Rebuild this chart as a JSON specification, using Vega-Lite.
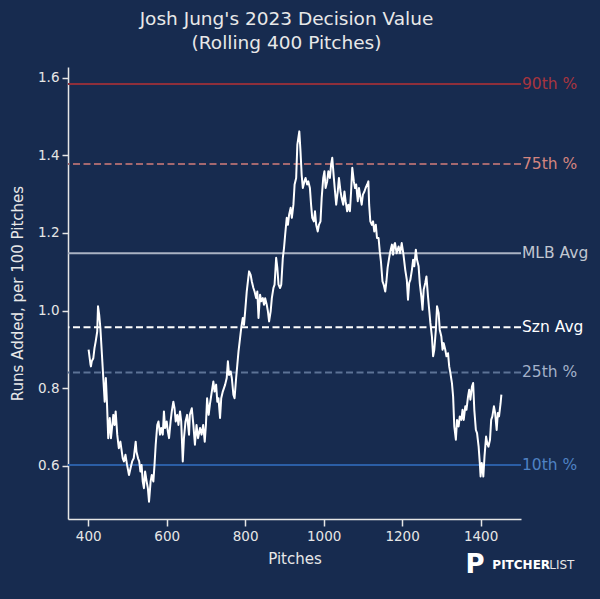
{
  "$schema": "https://vega.github.io/schema/vega-lite/v6.json",
  "width": 453,
  "height": 452,
  "autosize": {"type": "none"},
  "padding": {"left": 68, "top": 67, "right": 79, "bottom": 80},
  "background": "#172b4f",
  "config": {"view": {"stroke": null}, "font": "DejaVu Sans"},
  "title": {
    "text": ["Josh Jung's 2023 Decision Value", "(Rolling 400 Pitches)"],
    "fontSize": 18.5,
    "font": "DejaVu Sans",
    "fontWeight": "normal",
    "color": "#e8e8e8",
    "lineHeight": 24,
    "offset": 15,
    "frame": "group",
    "anchor": "middle",
    "dx": -8
  },
  "datasets": {
    "series": [
      {"p":401,"v":0.899},{"p":406,"v":0.860},{"p":407,"v":0.856},{"p":409,"v":0.869},{"p":413,"v":0.877},{"p":416,"v":0.903},{"p":419,"v":0.920},{"p":423,"v":0.946},{"p":425,"v":1.011},{"p":428,"v":0.989},{"p":431,"v":0.955},{"p":435,"v":0.886},{"p":438,"v":0.834},{"p":442,"v":0.765},{"p":445,"v":0.826},{"p":448,"v":0.757},{"p":451,"v":0.671},{"p":455,"v":0.723},{"p":458,"v":0.671},{"p":464,"v":0.731},{"p":467,"v":0.705},{"p":470,"v":0.740},{"p":474,"v":0.680},{"p":478,"v":0.645},{"p":482,"v":0.662},{"p":488,"v":0.619},{"p":491,"v":0.611},{"p":495,"v":0.628},{"p":499,"v":0.602},{"p":504,"v":0.576},{"p":508,"v":0.594},{"p":512,"v":0.611},{"p":516,"v":0.619},{"p":521,"v":0.662},{"p":523,"v":0.636},{"p":527,"v":0.619},{"p":530,"v":0.611},{"p":533,"v":0.585},{"p":536,"v":0.602},{"p":539,"v":0.559},{"p":542,"v":0.542},{"p":545,"v":0.585},{"p":549,"v":0.559},{"p":552,"v":0.542},{"p":555,"v":0.507},{"p":559,"v":0.559},{"p":562,"v":0.576},{"p":566,"v":0.559},{"p":569,"v":0.602},{"p":572,"v":0.654},{"p":576,"v":0.705},{"p":579,"v":0.714},{"p":583,"v":0.680},{"p":586,"v":0.697},{"p":590,"v":0.680},{"p":593,"v":0.740},{"p":596,"v":0.697},{"p":600,"v":0.714},{"p":603,"v":0.688},{"p":606,"v":0.671},{"p":610,"v":0.714},{"p":613,"v":0.740},{"p":617,"v":0.765},{"p":620,"v":0.748},{"p":623,"v":0.714},{"p":627,"v":0.731},{"p":630,"v":0.705},{"p":634,"v":0.740},{"p":637,"v":0.714},{"p":641,"v":0.611},{"p":644,"v":0.671},{"p":648,"v":0.714},{"p":652,"v":0.731},{"p":657,"v":0.680},
      {"p":659,"v":0.731},{"p":664,"v":0.748},{"p":668,"v":0.705},{"p":672,"v":0.654},{"p":676,"v":0.705},{"p":680,"v":0.671},{"p":685,"v":0.697},{"p":689,"v":0.680},{"p":693,"v":0.705},{"p":697,"v":0.662},{"p":700,"v":0.705},{"p":703,"v":0.774},{"p":707,"v":0.731},{"p":710,"v":0.757},{"p":715,"v":0.791},{"p":719,"v":0.817},{"p":722,"v":0.791},{"p":726,"v":0.809},{"p":729,"v":0.765},{"p":732,"v":0.774},{"p":736,"v":0.723},{"p":739,"v":0.774},{"p":743,"v":0.791},{"p":746,"v":0.800},{"p":749,"v":0.809},{"p":753,"v":0.826},{"p":756,"v":0.869},{"p":759,"v":0.834},{"p":763,"v":0.843},{"p":766,"v":0.826},{"p":770,"v":0.783},{"p":773,"v":0.774},{"p":777,"v":0.826},{"p":780,"v":0.860},{"p":783,"v":0.894},{"p":787,"v":0.929},{"p":790,"v":0.955},{"p":794,"v":0.981},{"p":797,"v":0.963},{"p":800,"v":0.998},{"p":804,"v":1.049},{"p":807,"v":1.075},{"p":810,"v":1.101},{"p":814,"v":1.092},{"p":817,"v":1.075},{"p":821,"v":1.058},{"p":824,"v":1.049},{"p":828,"v":1.032},{"p":831,"v":1.049},{"p":834,"v":0.981},{"p":838,"v":1.041},{"p":841,"v":1.024},{"p":845,"v":1.032},{"p":848,"v":1.015},{"p":851,"v":1.032},{"p":855,"v":1.015},{"p":858,"v":0.998},{"p":861,"v":0.972},{"p":865,"v":0.998},{"p":868,"v":1.032},{"p":872,"v":1.058},{"p":875,"v":1.067},{"p":879,"v":1.136},{"p":882,"v":1.110},{"p":885,"v":1.067},{"p":889,"v":1.058},{"p":892,"v":1.067},{"p":896,"v":1.136},{"p":899,"v":1.161},{"p":902,"v":1.196},{"p":906,"v":1.239},{"p":909,"v":1.221},{"p":912,"v":1.247},{"p":916,"v":1.265},{"p":919,"v":1.239},{"p":923,"v":1.273},{"p":926,"v":1.325},{"p":930,"v":1.342},{"p":933,"v":1.428},{"p":938,"v":1.462},{"p":941,"v":1.411},{"p":944,"v":1.350},{"p":947,"v":1.316},{"p":951,"v":1.333},{"p":954,"v":1.342},{"p":958,"v":1.325},{"p":961,"v":1.333},{"p":965,"v":1.316},{"p":968,"v":1.273},{"p":971,"v":1.239},{"p":975,"v":1.230},{"p":978,"v":1.256},{"p":981,"v":1.221},{"p":985,"v":1.204},{"p":988,"v":1.221},{"p":992,"v":1.230},{"p":995,"v":1.290},{"p":999,"v":1.342},{"p":1002,"v":1.359},{"p":1005,"v":1.316},{"p":1009,"v":1.333},{"p":1012,"v":1.359},{"p":1016,"v":1.342},{"p":1019,"v":1.376},{"p":1022,"v":1.394},{"p":1026,"v":1.342},{"p":1029,"v":1.307},{"p":1032,"v":1.273},{"p":1036,"v":1.307},{"p":1039,"v":1.342},{"p":1043,"v":1.307},{"p":1046,"v":1.290},{"p":1050,"v":1.273},{"p":1053,"v":1.307},{"p":1056,"v":1.282},{"p":1060,"v":1.256},{"p":1063,"v":1.273},{"p":1067,"v":1.256},{"p":1070,"v":1.307},{"p":1073,"v":1.368},{"p":1077,"v":1.333},{"p":1080,"v":1.316},{"p":1083,"v":1.325},{"p":1087,"v":1.282},{"p":1090,"v":1.316},{"p":1094,"v":1.290},{"p":1097,"v":1.273},{"p":1100,"v":1.299},{"p":1104,"v":1.307},{"p":1107,"v":1.316},{"p":1111,"v":1.325},{"p":1114,"v":1.333},{"p":1116,"v":1.273},{"p":1119,"v":1.230},{"p":1123,"v":1.221},{"p":1126,"v":1.230},{"p":1129,"v":1.204},{"p":1133,"v":1.221},{"p":1136,"v":1.187},{"p":1140,"v":1.187},{"p":1143,"v":1.153},{"p":1146,"v":1.127},{"p":1150,"v":1.075},{"p":1153,"v":1.067},{"p":1157,"v":1.049},{"p":1160,"v":1.075},{"p":1163,"v":1.110},{"p":1167,"v":1.136},{"p":1170,"v":1.153},{"p":1174,"v":1.170},{"p":1177,"v":1.144},{"p":1180,"v":1.170},{"p":1182,"v":1.174},{"p":1186,"v":1.148},{"p":1191,"v":1.165},{"p":1195,"v":1.148},{"p":1199,"v":1.174},{"p":1203,"v":1.148},{"p":1208,"v":1.105},{"p":1212,"v":1.079},{"p":1215,"v":1.028},{"p":1218,"v":1.071},{"p":1221,"v":1.079},{"p":1225,"v":1.105},{"p":1228,"v":1.131},{"p":1231,"v":1.114},{"p":1235,"v":1.157},{"p":1238,"v":1.131},{"p":1242,"v":1.114},{"p":1245,"v":1.071},{"p":1249,"v":1.036},{"p":1252,"v":1.002},{"p":1255,"v":1.054},{"p":1259,"v":1.071},{"p":1262,"v":1.088},{"p":1266,"v":1.036},{"p":1269,"v":1.002},{"p":1272,"v":0.968},{"p":1276,"v":0.933},{"p":1279,"v":0.882},{"p":1282,"v":0.899},{"p":1286,"v":0.950},{"p":1289,"v":1.011},{"p":1293,"v":0.994},{"p":1296,"v":0.950},{"p":1300,"v":0.933},{"p":1303,"v":0.899},{"p":1306,"v":0.916},{"p":1310,"v":0.899},{"p":1313,"v":0.882},{"p":1317,"v":0.890},{"p":1320,"v":0.856},{"p":1323,"v":0.839},{"p":1327,"v":0.813},{"p":1330,"v":0.778},{"p":1333,"v":0.701},{"p":1337,"v":0.667},{"p":1340,"v":0.718},{"p":1344,"v":0.701},{"p":1347,"v":0.727},{"p":1351,"v":0.718},{"p":1354,"v":0.744},{"p":1357,"v":0.718},{"p":1361,"v":0.753},{"p":1364,"v":0.744},{"p":1368,"v":0.778},{"p":1371,"v":0.796},{"p":1374,"v":0.770},{"p":1378,"v":0.804},{"p":1381,"v":0.813},{"p":1384,"v":0.744},{"p":1388,"v":0.692},{"p":1391,"v":0.684},{"p":1395,"v":0.649},{"p":1398,"v":0.607},{"p":1400,"v":0.572},{"p":1403,"v":0.607},{"p":1407,"v":0.572},{"p":1410,"v":0.624},{"p":1414,"v":0.675},{"p":1417,"v":0.658},{"p":1420,"v":0.649},{"p":1424,"v":0.667},{"p":1427,"v":0.718},{"p":1430,"v":0.727},{"p":1434,"v":0.753},{"p":1437,"v":0.736},{"p":1441,"v":0.692},{"p":1444,"v":0.736},{"p":1447,"v":0.727},{"p":1451,"v":0.761},{"p":1453,"v":0.783}
    ],
    "refs": [
      {"name": "90th %", "v": 1.584},
      {"name": "75th %", "v": 1.378},
      {"name": "MLB Avg", "v": 1.148},
      {"name": "Szn Avg", "v": 0.957},
      {"name": "25th %", "v": 0.8405},
      {"name": "10th %", "v": 0.602}
    ]
  },
  "resolve": {"scale": {"color": "independent"}},
  "layer": [
    {
      "data": {"name": "refs"},
      "mark": {"type": "rule", "strokeWidth": 2},
      "encoding": {
        "y": {
          "field": "v", "type": "quantitative",
          "scale": {"domain": [0.4625, 1.628], "nice": false, "zero": false},
          "axis": {
            "values": [0.6, 0.8, 1.0, 1.2, 1.4, 1.6],
            "format": ".1f",
            "title": "Runs Added, per 100 Pitches",
            "grid": false,
            "domainColor": "#e6e6e6", "domainWidth": 1.5,
            "tickColor": "#e6e6e6", "tickSize": 6, "tickWidth": 1.5,
            "labelColor": "#e6e6e6", "labelFontSize": 13.5, "labelFont": "DejaVu Sans", "labelPadding": 3,
            "titleColor": "#e8e8e8", "titleFontSize": 15, "titleFontWeight": "normal", "titleFont": "DejaVu Sans",
            "titleX": -51, "titleBaseline": "middle"
          }
        },
        "color": {
          "field": "name", "type": "nominal", "legend": null,
          "scale": {
            "domain": ["90th %", "75th %", "MLB Avg", "Szn Avg", "25th %", "10th %"],
            "range": ["#8e2f3b", "#a4686f", "#aab3c3", "#ffffff", "#5d7396", "#2b5ea6"]
          }
        },
        "strokeDash": {
          "field": "name", "type": "nominal", "legend": null,
          "scale": {
            "domain": ["90th %", "75th %", "MLB Avg", "Szn Avg", "25th %", "10th %"],
            "range": [[1, 0], [7, 3.5], [1, 0], [7, 3.5], [7, 3.5], [1, 0]]
          }
        }
      }
    },
    {
      "data": {"name": "series"},
      "mark": {"type": "line", "color": "#ffffff", "strokeWidth": 2, "strokeJoin": "round"},
      "encoding": {
        "x": {
          "field": "p", "type": "quantitative",
          "scale": {"domain": [348.5, 1503], "nice": false, "zero": false},
          "axis": {
            "values": [400, 600, 800, 1000, 1200, 1400],
            "format": "d",
            "title": "Pitches",
            "grid": false,
            "domainColor": "#e6e6e6", "domainWidth": 1.5,
            "tickColor": "#e6e6e6", "tickSize": 7, "tickWidth": 1.5,
            "labelColor": "#e6e6e6", "labelFontSize": 13.5, "labelFont": "DejaVu Sans", "labelPadding": 3,
            "titleColor": "#e8e8e8", "titleFontSize": 15, "titleFontWeight": "normal", "titleFont": "DejaVu Sans",
            "titleY": 39, "titleBaseline": "middle"
          }
        },
        "y": {"field": "v", "type": "quantitative"}
      }
    },
    {
      "data": {"name": "refs"},
      "mark": {"type": "text", "align": "left", "baseline": "middle", "fontSize": 15.5, "font": "DejaVu Sans", "dx": 1},
      "encoding": {
        "x": {"datum": 1503, "type": "quantitative"},
        "y": {"field": "v", "type": "quantitative"},
        "text": {"field": "name"},
        "color": {
          "field": "name", "type": "nominal", "legend": null,
          "scale": {
            "domain": ["90th %", "75th %", "MLB Avg", "Szn Avg", "25th %", "10th %"],
            "range": ["#a8353f", "#d4857f", "#c0c6d0", "#ffffff", "#a3b1c9", "#4f82c3"]
          }
        }
      }
    },
    {
      "data": {"values": [{}]},
      "mark": {"type": "text", "text": "P", "fontSize": 26, "fontWeight": "bold", "font": "DejaVu Sans", "color": "#ffffff", "align": "center", "baseline": "middle"},
      "encoding": {
        "x": {"datum": 1386, "type": "quantitative"},
        "y": {"datum": 0.344, "type": "quantitative"}
      }
    },
    {
      "data": {"values": [{}]},
      "mark": {"type": "text", "text": "PITCHER", "fontSize": 12, "fontWeight": "bold", "font": "DejaVu Sans", "color": "#ffffff", "align": "left", "baseline": "middle"},
      "encoding": {
        "x": {"datum": 1430, "type": "quantitative"},
        "y": {"datum": 0.344, "type": "quantitative"}
      }
    },
    {
      "data": {"values": [{}]},
      "mark": {"type": "text", "text": "LIST", "fontSize": 12, "fontWeight": "normal", "font": "DejaVu Sans", "color": "#e6e6e6", "align": "left", "baseline": "middle"},
      "encoding": {
        "x": {"datum": 1575, "type": "quantitative"},
        "y": {"datum": 0.344, "type": "quantitative"}
      }
    }
  ]
}
